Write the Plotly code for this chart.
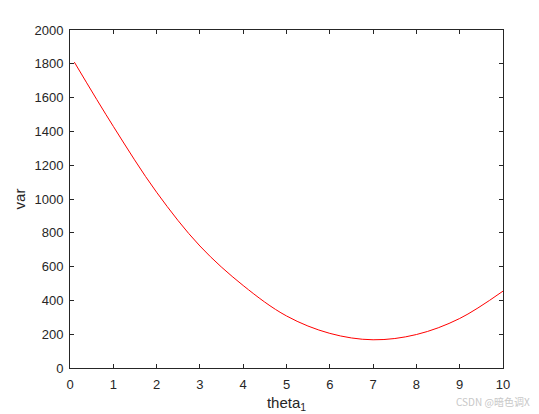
import plotly.graph_objects as go

# values
theta = [0.1, 1, 2, 3, 4, 5, 6, 7, 8, 9, 10]
var = [1810, 1430, 1040, 722, 488, 308, 205, 167, 198, 293, 455]

x_ticks = list(range(0, 11))
y_ticks = list(range(0, 2001, 200))

axis_color = "#262626"
font_family = "Liberation Sans, Arial, Helvetica, sans-serif"

fig = go.Figure()

fig.add_trace(
    go.Scatter(
        x=theta,
        y=var,
        mode="lines",
        line=dict(color="#ff0000", width=1, shape="spline", smoothing=1.0),
        showlegend=False,
        hoverinfo="skip",
    )
)

common_axis = dict(
    showgrid=False,
    zeroline=False,
    showline=True,
    linecolor=axis_color,
    linewidth=1,
    mirror="ticks",
    ticks="inside",
    ticklen=4,
    tickwidth=1,
    tickcolor=axis_color,
    tickfont=dict(family=font_family, size=13, color=axis_color),
    automargin=False,
)

fig.update_xaxes(
    range=[0, 10],
    tickvals=x_ticks,
    ticklabelstandoff=4,
    title=dict(
        text="theta<sub>1</sub>",
        font=dict(family=font_family, size=15, color=axis_color),
        standoff=6,
    ),
    **common_axis,
)
fig.update_yaxes(
    range=[0, 2000],
    tickvals=y_ticks,
    ticklabelstandoff=3,
    title=dict(
        text="var",
        font=dict(family=font_family, size=15, color=axis_color),
        standoff=5,
    ),
    **common_axis,
)

# watermark in the bottom right corner
fig.add_annotation(
    text="CSDN @暗色调X",
    xref="paper",
    yref="paper",
    x=1.068,
    y=-0.1,
    xanchor="right",
    yanchor="middle",
    showarrow=False,
    font=dict(family="Noto Sans CJK SC, sans-serif", size=10, color="#c8c8c8"),
)

# the page body adds an 8px offset, so the figure is sized to the visible area
fig.update_layout(
    width=531,
    height=406,
    margin=dict(l=62, r=36, t=22, b=46),
    paper_bgcolor="white",
    plot_bgcolor="white",
)

fig.write_html("out.html")
